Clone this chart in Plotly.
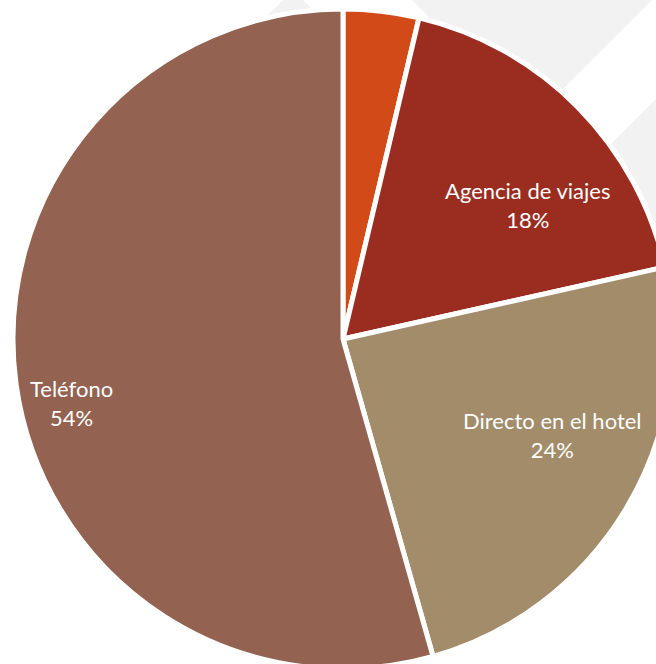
import plotly.graph_objects as go

labels = ["Otros", "Agencia de viajes", "Directo en el hotel", "Teléfono"]
values = [3.7, 17.8, 24.1, 54.4]
colors = ["#D14A18", "#9B2D20", "#A28C6A", "#946250"]
show_text = [False, True, True, True]

W, H = 673, 669

# where each data label sits (pixels, like the original "best fit" spots)
label_pos = [None, (527, 205), (552, 435), (71, 403)]


def px_path(points):
    # pixel points -> paper path
    s = ""
    for i, (x, y) in enumerate(points):
        s += ("M" if i == 0 else "L") + f"{x / W:.4f},{1 - y / H:.4f} "
    return s + "Z"


# light grey diagonal decoration behind the pie
bg_shapes = [
    [(293, -10), (220, 63), (366, 63)],
    [(402, -10), (662, -10), (532, 120)],
    [(680, 75), (680, 400), (355, 400)],
]

fig = go.Figure()
fig.add_trace(go.Pie(
    labels=labels,
    values=values,
    sort=False,
    direction="clockwise",
    rotation=0,
    marker=dict(colors=colors, line=dict(color="white", width=5)),
    textinfo="none",
    showlegend=False,
    hoverinfo="label+percent",
    domain=dict(x=[13 / W, 1], y=[0, 660 / H]),
))

total = sum(values)
for lab, v, show, pos in zip(labels, values, show_text, label_pos):
    if not show:
        continue
    fig.add_annotation(
        x=pos[0] / W, y=1 - pos[1] / H, xref="paper", yref="paper",
        text=f"{lab}<br>{round(v / total * 100)}%",
        showarrow=False, xanchor="center", yanchor="middle", align="center",
        font=dict(color="white", size=22, family="Lato"),
    )

for pts in bg_shapes:
    fig.add_shape(type="path", path=px_path(pts), xref="paper", yref="paper",
                  fillcolor="#F2F2F2", line=dict(width=0), layer="below")

fig.update_layout(
    width=W, height=H,
    margin=dict(l=0, r=0, t=0, b=0),
    paper_bgcolor="white",
    plot_bgcolor="white",
)

fig.write_html("out.html", config={"displayModeBar": False},
               post_script="document.body.style.margin='0';document.body.style.overflow='hidden';")
